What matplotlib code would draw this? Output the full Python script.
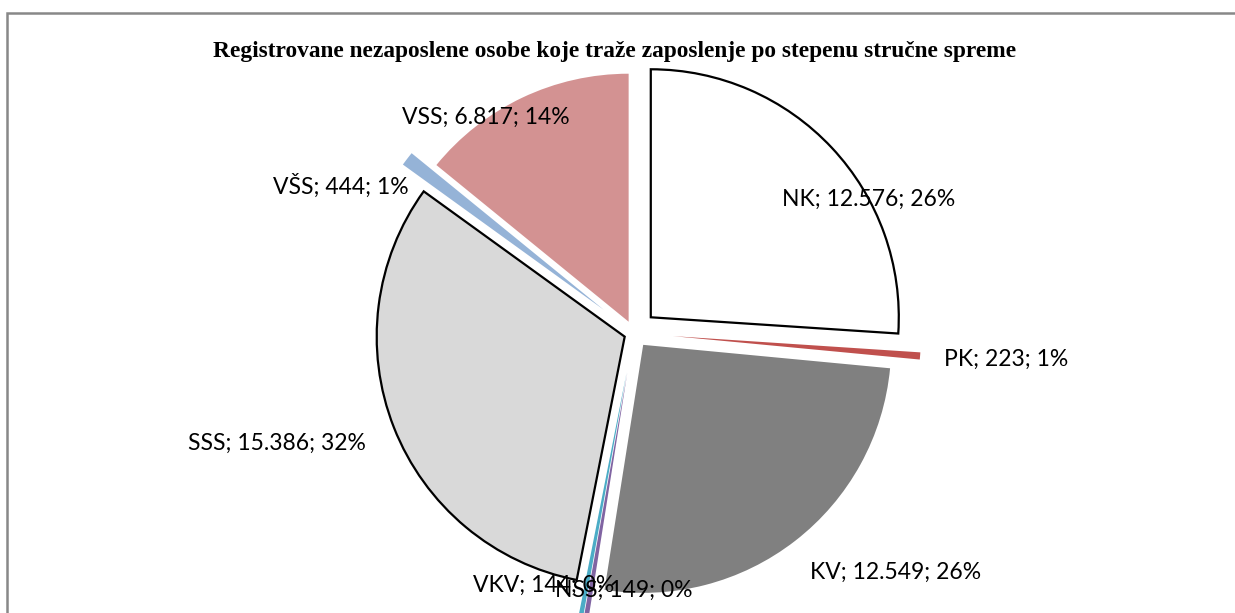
import matplotlib
matplotlib.use("Agg")
import matplotlib.pyplot as plt
from matplotlib.patches import Rectangle

# ---- data ----
categories = ["NK", "PK", "KV", "NSS", "VKV", "SSS", "VŠS", "VSS"]
values = [12576, 223, 12549, 149, 144, 15386, 444, 6817]
percent_labels = [26, 1, 26, 0, 0, 32, 1, 14]
title = "Registrovane nezaposlene osobe koje traže zaposlenje po stepenu stručne spreme"

# ---- style ----
W, H = 1235, 613
colors = ["#FFFFFF", "#C0504D", "#808080", "#8064A2", "#4BACC6", "#D9D9D9", "#95B3D7", "#D39292"]
edgecolors = ["black", "none", "none", "none", "none", "black", "none", "none"]
linewidths = [1.6, 0, 0, 0, 0, 1.6, 0, 0]
R = 248
center_img = (634, 333)
explode_px = [23, 39, 15, 40, 40, 10, 38, 12.5]
# label centres in image pixel coordinates
label_pos = [(869, 199), (1006, 359), (896, 572), (624, 590),
             (544, 585), (277, 443), (341, 186), (486, 117)]

fig = plt.figure(figsize=(W / 100, H / 100), dpi=100)
ax = fig.add_axes([0, 0, 1, 1])

# matplotlib's explode offsets are in data units (here: pixels)
wedges, _ = ax.pie(values, explode=explode_px, radius=R,
                   center=(center_img[0], H - center_img[1]),
                   startangle=90, counterclock=False, colors=colors,
                   wedgeprops=dict(linewidth=0))
for w, ec, lw in zip(wedges, edgecolors, linewidths):
    w.set_edgecolor(ec)
    w.set_linewidth(lw)
    w.set_joinstyle("miter")

def fmt(v):
    return f"{v:,}".replace(",", ".")

for name, v, p, (lx, ly) in zip(categories, values, percent_labels, label_pos):
    ax.text(lx, H - ly, f"{name}; {fmt(v)}; {p}%", ha="center", va="center",
            fontsize=16.5, family="Lato", color="black")

ax.text(615, H - 51, title, ha="center", va="center", fontsize=16.8,
        family="Liberation Serif", fontweight="bold")

ax.set_xlim(0, W)
ax.set_ylim(0, H)
ax.set_aspect("auto")
ax.axis("off")

# outer chart border (right and bottom lie outside the image)
fig.patches.append(Rectangle((7 / W, -0.1), 1.2, (H - 13) / H + 0.1,
                             transform=fig.transFigure, fill=False,
                             edgecolor="#888888", linewidth=1.8))

fig.savefig("out.png", dpi=100, facecolor="white")
